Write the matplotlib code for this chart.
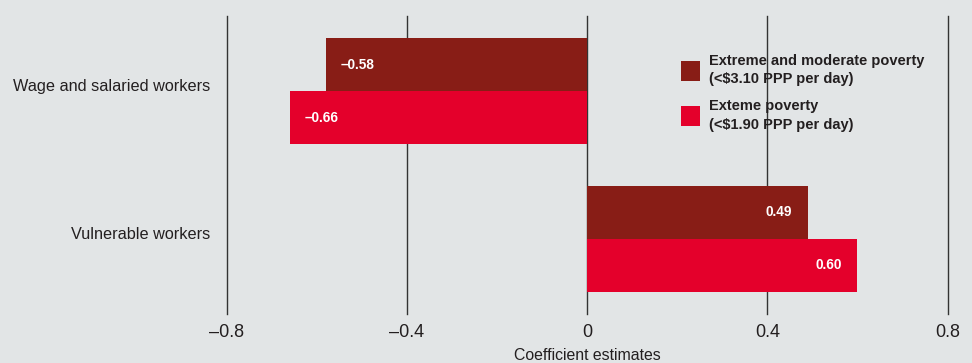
import matplotlib
matplotlib.use("Agg")
import matplotlib.pyplot as plt
import matplotlib.transforms as mtransforms
from matplotlib import font_manager
import numpy as np

# data
categories = ["Wage and salaried workers", "Vulnerable workers"]
series_names = ["Extreme and moderate poverty\n(<$3.10 PPP per day)",
                "Exteme poverty\n(<$1.90 PPP per day)"]
moderate_vals = [-0.58, 0.49]
extreme_vals = [-0.66, 0.60]
moderate_labels = ["\u20130.58", "0.49"]
extreme_labels = ["\u20130.66", "0.60"]
x_ticks = [-0.8, -0.4, 0, 0.4, 0.8]
x_tick_labels = ["\u20130.8", "\u20130.4", "0", "0.4", "0.8"]

# fonts - use a narrow face when one is installed
names = {f.name for f in font_manager.fontManager.ttflist}
has_narrow = "Liberation Sans Narrow" in names
bold_font = "Liberation Sans Narrow" if has_narrow else "Liberation Sans"
scale = 1.0 if has_narrow else 0.82
plt.rcParams["font.family"] = ["Liberation Sans", "DejaVu Sans"]

bg = "#E2E5E6"
dark_red = "#881D16"
bright_red = "#E4002B"
text_col = "#231F20"

W, H = 972, 363
fig = plt.figure(figsize=(W / 100, H / 100), dpi=100, facecolor=bg)
ax = fig.add_axes([226.5 / W, 1 - 314 / H, 721 / W, 298 / H])
ax.set_facecolor(bg)

y = np.arange(len(categories))
h = 0.359
b1 = ax.barh(y - h / 2, moderate_vals, height=h, color=dark_red,
             label=series_names[0], zorder=2)
b2 = ax.barh(y + h / 2, extreme_vals, height=h, color=bright_red,
             label=series_names[1], zorder=2)

# vertical grid lines
for xt in x_ticks:
    ax.axvline(xt, color="#333333", lw=1.0, zorder=1, clip_on=False)

ax.set_xlim(-0.8, 0.8)
ax.set_ylim(1.51, -0.51)
for s in ax.spines.values():
    s.set_visible(False)

ax.set_xticks(x_ticks, labels=x_tick_labels)
ax.tick_params(axis="x", length=0, pad=7, labelsize=13, labelcolor=text_col)
ax.set_yticks(y, labels=categories)
ax.tick_params(axis="y", length=0, pad=11.5, labelsize=11.7, labelcolor=text_col)
shift = mtransforms.ScaledTranslation(0, 6 / 100, fig.dpi_scale_trans)
for lab in ax.get_yticklabels():
    lab.set_transform(lab.get_transform() + shift)

# value labels inside bars
for bars, vals, labs in [(b1, moderate_vals, moderate_labels),
                         (b2, extreme_vals, extreme_labels)]:
    for rect, v, lab in zip(bars, vals, labs):
        yc = rect.get_y() + rect.get_height() / 2
        if v < 0:
            ax.annotate(lab, (v, yc), xytext=(11, 0), textcoords="offset points",
                        ha="left", va="center", color="white",
                        fontsize=12 * scale, fontweight="bold", family=bold_font,
                        zorder=3)
        else:
            ax.annotate(lab, (v, yc), xytext=(-11.5, 0), textcoords="offset points",
                        ha="right", va="center", color="white",
                        fontsize=12 * scale, fontweight="bold", family=bold_font,
                        zorder=3)

fs = 12.8 * scale
hs = 19 / (fs * 100 / 72)
leg = ax.legend(handles=[b1, b2], loc="upper left",
                bbox_to_anchor=(681 / W, 1 - 54 / H), bbox_transform=fig.transFigure,
                frameon=False, borderpad=0, borderaxespad=0,
                prop={"family": bold_font, "weight": "bold", "size": fs},
                handlelength=hs, handleheight=hs * 1.3,
                handletextpad=0.6, labelspacing=0.88)
for t in leg.get_texts():
    t.set_color(text_col)
    t.set_linespacing(1.4)

fig.text(587 / W, 3 / H, "Coefficient estimates", ha="center", va="baseline",
         fontsize=11.4, color=text_col)

fig.savefig("out.png", dpi=100, facecolor=bg)
